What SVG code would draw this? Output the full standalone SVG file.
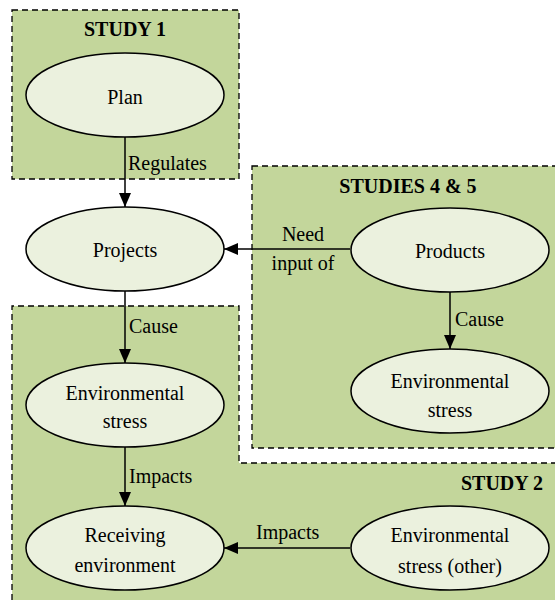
<svg xmlns="http://www.w3.org/2000/svg" width="555" height="600" viewBox="0 0 555 600">
<defs>
<marker id="ah" viewBox="0 0 14 12" refX="14" refY="6" markerWidth="14" markerHeight="12" markerUnits="userSpaceOnUse" orient="auto">
<path d="M0,0 L14,6 L0,12 Z" fill="#000"/>
</marker>
</defs>
<rect width="555" height="600" fill="#fff"/>
<g id="study1">
<rect x="12" y="10" width="227" height="169" fill="#c3d69b" stroke="#000" stroke-width="1.3" stroke-dasharray="6,4"/>
<text font-family="Liberation Serif" font-size="20" font-weight="bold" text-anchor="middle" x="125" y="36">STUDY 1</text>
</g>
<g id="study45">
<rect x="252" y="166" width="310" height="282" fill="#c3d69b" stroke="#000" stroke-width="1.3" stroke-dasharray="6,4"/>
<text font-family="Liberation Serif" font-size="20" font-weight="bold" text-anchor="middle" x="408" y="193">STUDIES 4 &amp; 5</text>
</g>
<g id="study2">
<path d="M12,610 L12,306 L239,306 L239,463 L562,463 L562,610" fill="#c3d69b" stroke="#000" stroke-width="1.3" stroke-dasharray="6,4"/>
<text font-family="Liberation Serif" font-size="20" font-weight="bold" text-anchor="end" x="543" y="490">STUDY 2</text>
</g>
<g id="edges" stroke="#000" stroke-width="1.5" fill="none">
<line x1="125" y1="137" x2="125" y2="207" marker-end="url(#ah)"/>
<line x1="350" y1="249" x2="224" y2="249" marker-end="url(#ah)"/>
<line x1="450" y1="292" x2="450" y2="349" marker-end="url(#ah)"/>
<line x1="125" y1="291" x2="125" y2="363" marker-end="url(#ah)"/>
<line x1="125" y1="447" x2="125" y2="506" marker-end="url(#ah)"/>
<line x1="350" y1="548" x2="224" y2="548" marker-end="url(#ah)"/>
</g>
<g id="edge-labels">
<text font-family="Liberation Serif" font-size="20" x="128" y="170">Regulates</text>
<text font-family="Liberation Serif" font-size="20" text-anchor="middle" x="303" y="241">Need</text>
<text font-family="Liberation Serif" font-size="20" text-anchor="middle" x="303" y="270">input of</text>
<text font-family="Liberation Serif" font-size="20" x="455" y="326">Cause</text>
<text font-family="Liberation Serif" font-size="20" x="129" y="333">Cause</text>
<text font-family="Liberation Serif" font-size="20" x="129" y="483">Impacts</text>
<text font-family="Liberation Serif" font-size="20" x="256" y="539">Impacts</text>
</g>
<g id="plan">
<ellipse cx="125" cy="95" rx="99" ry="42" fill="#ebf1de" stroke="#000" stroke-width="1.5"/>
<text font-family="Liberation Serif" font-size="20" text-anchor="middle" x="125" y="104">Plan</text>
</g>
<g id="projects">
<ellipse cx="125" cy="249" rx="99" ry="42" fill="#ebf1de" stroke="#000" stroke-width="1.5"/>
<text font-family="Liberation Serif" font-size="20" text-anchor="middle" x="125" y="257">Projects</text>
</g>
<g id="products">
<ellipse cx="450" cy="250" rx="99" ry="42" fill="#ebf1de" stroke="#000" stroke-width="1.5"/>
<text font-family="Liberation Serif" font-size="20" text-anchor="middle" x="450" y="258">Products</text>
</g>
<g id="envstress45">
<ellipse cx="450" cy="391" rx="99" ry="42" fill="#ebf1de" stroke="#000" stroke-width="1.5"/>
<text font-family="Liberation Serif" font-size="20" text-anchor="middle" x="450" y="388">Environmental</text>
<text font-family="Liberation Serif" font-size="20" text-anchor="middle" x="450" y="417">stress</text>
</g>
<g id="envstress">
<ellipse cx="125" cy="405" rx="99" ry="42" fill="#ebf1de" stroke="#000" stroke-width="1.5"/>
<text font-family="Liberation Serif" font-size="20" text-anchor="middle" x="125" y="400">Environmental</text>
<text font-family="Liberation Serif" font-size="20" text-anchor="middle" x="125" y="428">stress</text>
</g>
<g id="receiving">
<ellipse cx="125" cy="548" rx="99" ry="42" fill="#ebf1de" stroke="#000" stroke-width="1.5"/>
<text font-family="Liberation Serif" font-size="20" text-anchor="middle" x="125" y="542">Receiving</text>
<text font-family="Liberation Serif" font-size="20" text-anchor="middle" x="125" y="572">environment</text>
</g>
<g id="envother">
<ellipse cx="450" cy="548" rx="99" ry="42" fill="#ebf1de" stroke="#000" stroke-width="1.5"/>
<text font-family="Liberation Serif" font-size="20" text-anchor="middle" x="450" y="542">Environmental</text>
<text font-family="Liberation Serif" font-size="20" text-anchor="middle" x="450" y="573">stress (other)</text>
</g>
</svg>
